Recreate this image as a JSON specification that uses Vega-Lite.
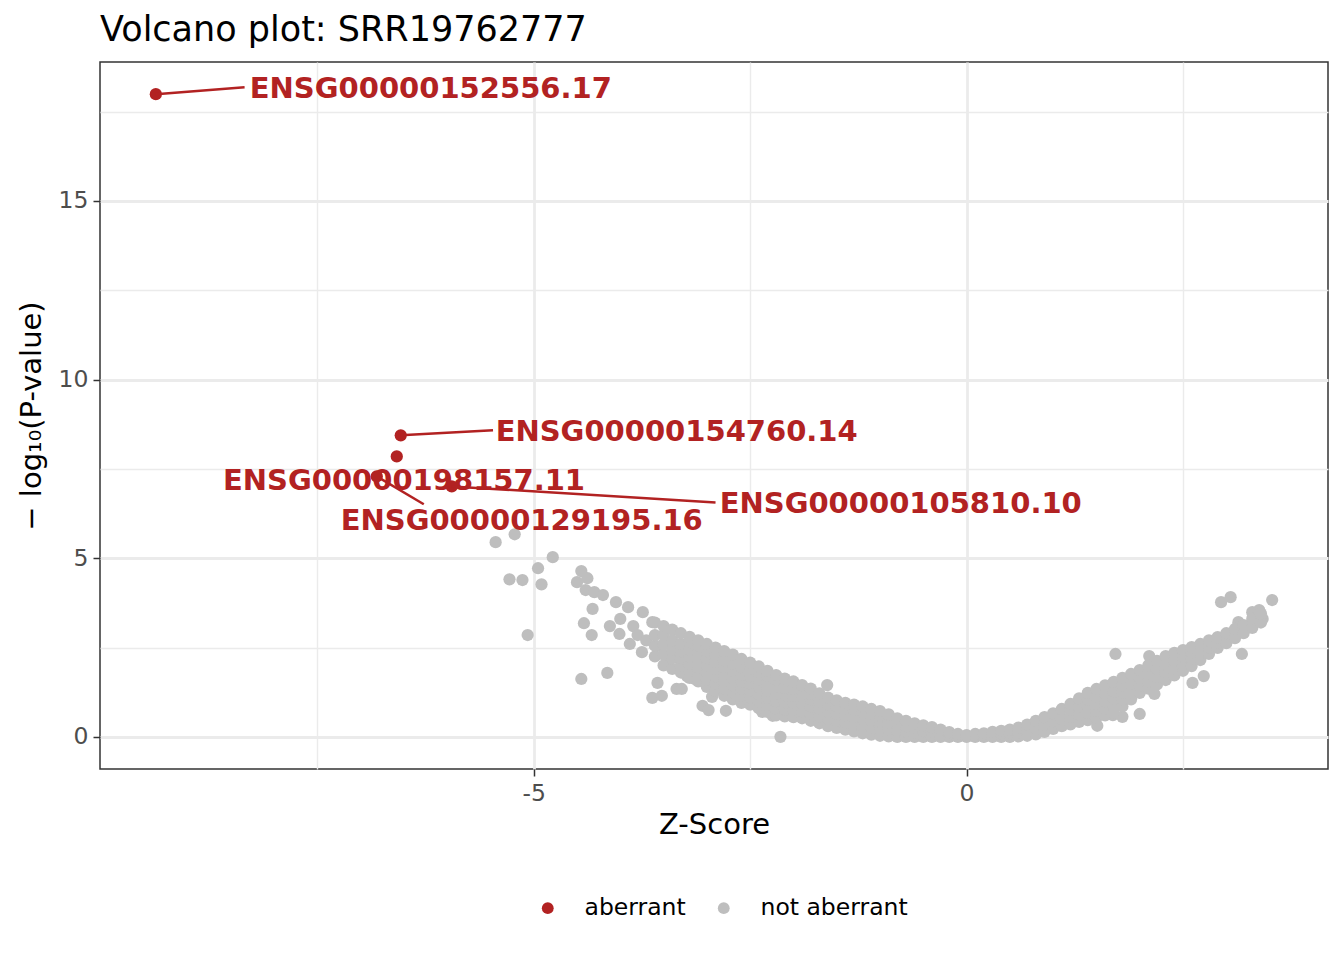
{
"$schema":"https://vega.github.io/schema/vega-lite/v6.json",
"autosize":{"type":"none"},
"padding":{"left":100,"top":62,"right":16,"bottom":191},
"width":1228,"height":707,
"title":{"text":"Volcano plot: SRR19762777","anchor":"start","frame":"group","fontSize":35,"font":"DejaVu Sans","fontWeight":"normal","color":"#000000","offset":14},
"config":{"font":"DejaVu Sans","view":{"stroke":"#333333","strokeWidth":1.5},
"axis":{"domain":false,"gridColor":"#EBEBEB","tickColor":"#333333","tickSize":7,"tickWidth":1.5,"labelColor":"#4D4D4D","labelFontSize":23.5,"labelFont":"DejaVu Sans","labelPadding":5,"titleFont":"DejaVu Sans","titleFontSize":29,"titleFontWeight":"normal","titleColor":"#000000"}},
"datasets":{
"pts":[
{"z":-5.44,"y":5.45,"status":"not aberrant"},{"z":-5.22,"y":5.67,"status":"not aberrant"},{"z":-4.78,"y":5.03,"status":"not aberrant"},{"z":-4.95,"y":4.72,"status":"not aberrant"},{"z":-5.28,"y":4.41,"status":"not aberrant"},{"z":-5.13,"y":4.39,"status":"not aberrant"},{"z":-4.91,"y":4.27,"status":"not aberrant"},{"z":-5.07,"y":2.85,"status":"not aberrant"},{"z":-4.45,"y":4.64,"status":"not aberrant"},{"z":-4.38,"y":4.44,"status":"not aberrant"},{"z":-4.5,"y":4.33,"status":"not aberrant"},{"z":-4.4,"y":4.11,"status":"not aberrant"},{"z":-4.3,"y":4.05,"status":"not aberrant"},{"z":-4.2,"y":3.97,"status":"not aberrant"},{"z":-4.32,"y":3.58,"status":"not aberrant"},{"z":-4.42,"y":3.18,"status":"not aberrant"},{"z":-4.33,"y":2.85,"status":"not aberrant"},{"z":-4.45,"y":1.62,"status":"not aberrant"},{"z":-4.15,"y":1.79,"status":"not aberrant"},{"z":-4.05,"y":3.77,"status":"not aberrant"},{"z":-3.91,"y":3.63,"status":"not aberrant"},{"z":-3.74,"y":3.49,"status":"not aberrant"},{"z":-4.12,"y":3.1,"status":"not aberrant"},{"z":-4.01,"y":2.88,"status":"not aberrant"},{"z":-3.89,"y":2.6,"status":"not aberrant"},{"z":-3.75,"y":2.37,"status":"not aberrant"},{"z":-3.58,"y":2.54,"status":"not aberrant"},{"z":-3.63,"y":3.21,"status":"not aberrant"},{"z":-3.63,"y":1.09,"status":"not aberrant"},{"z":-3.52,"y":1.15,"status":"not aberrant"},{"z":-3.35,"y":1.34,"status":"not aberrant"},{"z":-3.29,"y":1.34,"status":"not aberrant"},{"z":-3.05,"y":0.87,"status":"not aberrant"},{"z":-2.98,"y":0.75,"status":"not aberrant"},{"z":-2.94,"y":1.12,"status":"not aberrant"},{"z":-2.78,"y":0.73,"status":"not aberrant"},{"z":-3.45,"y":2.12,"status":"not aberrant"},{"z":-3.57,"y":1.51,"status":"not aberrant"},{"z":-3.23,"y":1.7,"status":"not aberrant"},{"z":-3.14,"y":1.62,"status":"not aberrant"},{"z":-2.97,"y":1.56,"status":"not aberrant"},{"z":-2.15,"y":0.0,"status":"not aberrant"},{"z":-1.61,"y":1.45,"status":"not aberrant"},{"z":-2.36,"y":0.7,"status":"not aberrant"},{"z":-2.24,"y":0.59,"status":"not aberrant"},{"z":-4.0,"y":3.3,"status":"not aberrant"},{"z":-3.85,"y":3.1,"status":"not aberrant"},{"z":-3.8,"y":2.85,"status":"not aberrant"},{"z":-3.7,"y":2.7,"status":"not aberrant"},
{"z":1.72,"y":2.32,"status":"not aberrant"},{"z":2.11,"y":2.26,"status":"not aberrant"},{"z":2.94,"y":3.77,"status":"not aberrant"},{"z":3.05,"y":3.91,"status":"not aberrant"},{"z":3.53,"y":3.83,"status":"not aberrant"},{"z":3.3,"y":3.49,"status":"not aberrant"},{"z":3.42,"y":3.3,"status":"not aberrant"},{"z":3.24,"y":3.07,"status":"not aberrant"},{"z":3.18,"y":2.32,"status":"not aberrant"},{"z":3.14,"y":3.21,"status":"not aberrant"},{"z":2.61,"y":1.51,"status":"not aberrant"},{"z":2.74,"y":1.7,"status":"not aberrant"},{"z":2.0,"y":0.64,"status":"not aberrant"},{"z":1.8,"y":0.56,"status":"not aberrant"},{"z":1.69,"y":0.61,"status":"not aberrant"},{"z":2.17,"y":1.2,"status":"not aberrant"},{"z":1.51,"y":0.31,"status":"not aberrant"},{"z":3.37,"y":3.4,"status":"not aberrant"},{"z":3.38,"y":3.55,"status":"not aberrant"},
{"z":-3.6,"y":2.25,"status":"not aberrant"},{"z":-3.6,"y":2.55,"status":"not aberrant"},{"z":-3.6,"y":2.85,"status":"not aberrant"},{"z":-3.6,"y":3.2,"status":"not aberrant"},
{"z":-3.5,"y":2.0,"status":"not aberrant"},{"z":-3.5,"y":2.3,"status":"not aberrant"},{"z":-3.5,"y":2.6,"status":"not aberrant"},{"z":-3.5,"y":2.85,"status":"not aberrant"},{"z":-3.5,"y":3.1,"status":"not aberrant"},
{"z":-3.4,"y":1.9,"status":"not aberrant"},{"z":-3.4,"y":2.2,"status":"not aberrant"},{"z":-3.4,"y":2.45,"status":"not aberrant"},{"z":-3.4,"y":2.7,"status":"not aberrant"},{"z":-3.4,"y":3.0,"status":"not aberrant"},
{"z":-3.3,"y":1.8,"status":"not aberrant"},{"z":-3.3,"y":2.0,"status":"not aberrant"},{"z":-3.3,"y":2.2,"status":"not aberrant"},{"z":-3.3,"y":2.4,"status":"not aberrant"},{"z":-3.3,"y":2.6,"status":"not aberrant"},{"z":-3.3,"y":2.9,"status":"not aberrant"},
{"z":-3.2,"y":1.65,"status":"not aberrant"},{"z":-3.2,"y":1.85,"status":"not aberrant"},{"z":-3.2,"y":2.05,"status":"not aberrant"},{"z":-3.2,"y":2.25,"status":"not aberrant"},{"z":-3.2,"y":2.45,"status":"not aberrant"},{"z":-3.2,"y":2.65,"status":"not aberrant"},{"z":-3.2,"y":2.8,"status":"not aberrant"},
{"z":-3.1,"y":1.55,"status":"not aberrant"},{"z":-3.1,"y":1.75,"status":"not aberrant"},{"z":-3.1,"y":1.95,"status":"not aberrant"},{"z":-3.1,"y":2.15,"status":"not aberrant"},{"z":-3.1,"y":2.35,"status":"not aberrant"},{"z":-3.1,"y":2.55,"status":"not aberrant"},{"z":-3.1,"y":2.7,"status":"not aberrant"},
{"z":-3.0,"y":1.4,"status":"not aberrant"},{"z":-3.0,"y":1.6,"status":"not aberrant"},{"z":-3.0,"y":1.8,"status":"not aberrant"},{"z":-3.0,"y":2.0,"status":"not aberrant"},{"z":-3.0,"y":2.2,"status":"not aberrant"},{"z":-3.0,"y":2.4,"status":"not aberrant"},{"z":-3.0,"y":2.6,"status":"not aberrant"},
{"z":-2.9,"y":1.3,"status":"not aberrant"},{"z":-2.9,"y":1.5,"status":"not aberrant"},{"z":-2.9,"y":1.7,"status":"not aberrant"},{"z":-2.9,"y":1.9,"status":"not aberrant"},{"z":-2.9,"y":2.1,"status":"not aberrant"},{"z":-2.9,"y":2.3,"status":"not aberrant"},{"z":-2.9,"y":2.5,"status":"not aberrant"},
{"z":-2.8,"y":1.15,"status":"not aberrant"},{"z":-2.8,"y":1.35,"status":"not aberrant"},{"z":-2.8,"y":1.55,"status":"not aberrant"},{"z":-2.8,"y":1.75,"status":"not aberrant"},{"z":-2.8,"y":1.95,"status":"not aberrant"},{"z":-2.8,"y":2.15,"status":"not aberrant"},{"z":-2.8,"y":2.4,"status":"not aberrant"},
{"z":-2.7,"y":1.05,"status":"not aberrant"},{"z":-2.7,"y":1.25,"status":"not aberrant"},{"z":-2.7,"y":1.45,"status":"not aberrant"},{"z":-2.7,"y":1.65,"status":"not aberrant"},{"z":-2.7,"y":1.85,"status":"not aberrant"},{"z":-2.7,"y":2.05,"status":"not aberrant"},{"z":-2.7,"y":2.3,"status":"not aberrant"},
{"z":-2.6,"y":0.95,"status":"not aberrant"},{"z":-2.6,"y":1.15,"status":"not aberrant"},{"z":-2.6,"y":1.35,"status":"not aberrant"},{"z":-2.6,"y":1.55,"status":"not aberrant"},{"z":-2.6,"y":1.75,"status":"not aberrant"},{"z":-2.6,"y":1.95,"status":"not aberrant"},{"z":-2.6,"y":2.18,"status":"not aberrant"},
{"z":-2.5,"y":0.9,"status":"not aberrant"},{"z":-2.5,"y":1.1,"status":"not aberrant"},{"z":-2.5,"y":1.3,"status":"not aberrant"},{"z":-2.5,"y":1.5,"status":"not aberrant"},{"z":-2.5,"y":1.7,"status":"not aberrant"},{"z":-2.5,"y":1.9,"status":"not aberrant"},{"z":-2.5,"y":2.08,"status":"not aberrant"},
{"z":-2.4,"y":0.8,"status":"not aberrant"},{"z":-2.4,"y":1.0,"status":"not aberrant"},{"z":-2.4,"y":1.2,"status":"not aberrant"},{"z":-2.4,"y":1.4,"status":"not aberrant"},{"z":-2.4,"y":1.6,"status":"not aberrant"},{"z":-2.4,"y":1.8,"status":"not aberrant"},{"z":-2.4,"y":1.97,"status":"not aberrant"},
{"z":-2.3,"y":0.7,"status":"not aberrant"},{"z":-2.3,"y":0.9,"status":"not aberrant"},{"z":-2.3,"y":1.1,"status":"not aberrant"},{"z":-2.3,"y":1.3,"status":"not aberrant"},{"z":-2.3,"y":1.5,"status":"not aberrant"},{"z":-2.3,"y":1.7,"status":"not aberrant"},{"z":-2.3,"y":1.85,"status":"not aberrant"},
{"z":-2.2,"y":0.6,"status":"not aberrant"},{"z":-2.2,"y":0.8,"status":"not aberrant"},{"z":-2.2,"y":1.0,"status":"not aberrant"},{"z":-2.2,"y":1.2,"status":"not aberrant"},{"z":-2.2,"y":1.4,"status":"not aberrant"},{"z":-2.2,"y":1.6,"status":"not aberrant"},{"z":-2.2,"y":1.73,"status":"not aberrant"},
{"z":-2.1,"y":0.57,"status":"not aberrant"},{"z":-2.1,"y":0.77,"status":"not aberrant"},{"z":-2.1,"y":0.97,"status":"not aberrant"},{"z":-2.1,"y":1.17,"status":"not aberrant"},{"z":-2.1,"y":1.37,"status":"not aberrant"},{"z":-2.1,"y":1.63,"status":"not aberrant"},
{"z":-2.0,"y":0.55,"status":"not aberrant"},{"z":-2.0,"y":0.75,"status":"not aberrant"},{"z":-2.0,"y":0.95,"status":"not aberrant"},{"z":-2.0,"y":1.15,"status":"not aberrant"},{"z":-2.0,"y":1.35,"status":"not aberrant"},{"z":-2.0,"y":1.55,"status":"not aberrant"},
{"z":-1.9,"y":0.52,"status":"not aberrant"},{"z":-1.9,"y":0.72,"status":"not aberrant"},{"z":-1.9,"y":0.92,"status":"not aberrant"},{"z":-1.9,"y":1.12,"status":"not aberrant"},{"z":-1.9,"y":1.3,"status":"not aberrant"},{"z":-1.9,"y":1.45,"status":"not aberrant"},
{"z":-1.8,"y":0.45,"status":"not aberrant"},{"z":-1.8,"y":0.65,"status":"not aberrant"},{"z":-1.8,"y":0.85,"status":"not aberrant"},{"z":-1.8,"y":1.05,"status":"not aberrant"},{"z":-1.8,"y":1.2,"status":"not aberrant"},{"z":-1.8,"y":1.35,"status":"not aberrant"},
{"z":-1.7,"y":0.38,"status":"not aberrant"},{"z":-1.7,"y":0.58,"status":"not aberrant"},{"z":-1.7,"y":0.78,"status":"not aberrant"},{"z":-1.7,"y":0.98,"status":"not aberrant"},{"z":-1.7,"y":1.22,"status":"not aberrant"},
{"z":-1.6,"y":0.3,"status":"not aberrant"},{"z":-1.6,"y":0.5,"status":"not aberrant"},{"z":-1.6,"y":0.7,"status":"not aberrant"},{"z":-1.6,"y":0.9,"status":"not aberrant"},{"z":-1.6,"y":1.1,"status":"not aberrant"},
{"z":-1.5,"y":0.25,"status":"not aberrant"},{"z":-1.5,"y":0.45,"status":"not aberrant"},{"z":-1.5,"y":0.65,"status":"not aberrant"},{"z":-1.5,"y":0.85,"status":"not aberrant"},{"z":-1.5,"y":1.02,"status":"not aberrant"},
{"z":-1.4,"y":0.2,"status":"not aberrant"},{"z":-1.4,"y":0.4,"status":"not aberrant"},{"z":-1.4,"y":0.6,"status":"not aberrant"},{"z":-1.4,"y":0.8,"status":"not aberrant"},{"z":-1.4,"y":0.95,"status":"not aberrant"},
{"z":-1.3,"y":0.15,"status":"not aberrant"},{"z":-1.3,"y":0.35,"status":"not aberrant"},{"z":-1.3,"y":0.55,"status":"not aberrant"},{"z":-1.3,"y":0.75,"status":"not aberrant"},{"z":-1.3,"y":0.9,"status":"not aberrant"},
{"z":-1.2,"y":0.1,"status":"not aberrant"},{"z":-1.2,"y":0.3,"status":"not aberrant"},{"z":-1.2,"y":0.5,"status":"not aberrant"},{"z":-1.2,"y":0.7,"status":"not aberrant"},{"z":-1.2,"y":0.85,"status":"not aberrant"},
{"z":-1.1,"y":0.06,"status":"not aberrant"},{"z":-1.1,"y":0.26,"status":"not aberrant"},{"z":-1.1,"y":0.46,"status":"not aberrant"},{"z":-1.1,"y":0.66,"status":"not aberrant"},{"z":-1.1,"y":0.78,"status":"not aberrant"},
{"z":-1.0,"y":0.03,"status":"not aberrant"},{"z":-1.0,"y":0.23,"status":"not aberrant"},{"z":-1.0,"y":0.43,"status":"not aberrant"},{"z":-1.0,"y":0.6,"status":"not aberrant"},{"z":-1.0,"y":0.72,"status":"not aberrant"},
{"z":-0.9,"y":0.01,"status":"not aberrant"},{"z":-0.9,"y":0.2,"status":"not aberrant"},{"z":-0.9,"y":0.4,"status":"not aberrant"},{"z":-0.9,"y":0.63,"status":"not aberrant"},
{"z":-0.8,"y":0.0,"status":"not aberrant"},{"z":-0.8,"y":0.18,"status":"not aberrant"},{"z":-0.8,"y":0.36,"status":"not aberrant"},{"z":-0.8,"y":0.52,"status":"not aberrant"},
{"z":-0.7,"y":0.0,"status":"not aberrant"},{"z":-0.7,"y":0.15,"status":"not aberrant"},{"z":-0.7,"y":0.3,"status":"not aberrant"},{"z":-0.7,"y":0.45,"status":"not aberrant"},
{"z":-0.6,"y":0.0,"status":"not aberrant"},{"z":-0.6,"y":0.13,"status":"not aberrant"},{"z":-0.6,"y":0.26,"status":"not aberrant"},{"z":-0.6,"y":0.38,"status":"not aberrant"},
{"z":-0.5,"y":0.0,"status":"not aberrant"},{"z":-0.5,"y":0.16,"status":"not aberrant"},{"z":-0.5,"y":0.32,"status":"not aberrant"},
{"z":-0.4,"y":0.0,"status":"not aberrant"},{"z":-0.4,"y":0.14,"status":"not aberrant"},{"z":-0.4,"y":0.27,"status":"not aberrant"},
{"z":-0.3,"y":0.0,"status":"not aberrant"},{"z":-0.3,"y":0.1,"status":"not aberrant"},{"z":-0.3,"y":0.2,"status":"not aberrant"},
{"z":-0.2,"y":0.0,"status":"not aberrant"},{"z":-0.2,"y":0.07,"status":"not aberrant"},{"z":-0.2,"y":0.13,"status":"not aberrant"},
{"z":-0.1,"y":0.0,"status":"not aberrant"},{"z":-0.1,"y":0.08,"status":"not aberrant"},
{"z":0.0,"y":0.0,"status":"not aberrant"},{"z":0.0,"y":0.05,"status":"not aberrant"},
{"z":0.1,"y":0.0,"status":"not aberrant"},{"z":0.1,"y":0.08,"status":"not aberrant"},
{"z":0.2,"y":0.0,"status":"not aberrant"},{"z":0.2,"y":0.1,"status":"not aberrant"},
{"z":0.3,"y":0.0,"status":"not aberrant"},{"z":0.3,"y":0.14,"status":"not aberrant"},
{"z":0.4,"y":0.0,"status":"not aberrant"},{"z":0.4,"y":0.09,"status":"not aberrant"},{"z":0.4,"y":0.17,"status":"not aberrant"},
{"z":0.5,"y":0.0,"status":"not aberrant"},{"z":0.5,"y":0.1,"status":"not aberrant"},{"z":0.5,"y":0.2,"status":"not aberrant"},
{"z":0.6,"y":0.01,"status":"not aberrant"},{"z":0.6,"y":0.13,"status":"not aberrant"},{"z":0.6,"y":0.26,"status":"not aberrant"},
{"z":0.7,"y":0.03,"status":"not aberrant"},{"z":0.7,"y":0.18,"status":"not aberrant"},{"z":0.7,"y":0.34,"status":"not aberrant"},
{"z":0.8,"y":0.07,"status":"not aberrant"},{"z":0.8,"y":0.25,"status":"not aberrant"},{"z":0.8,"y":0.45,"status":"not aberrant"},
{"z":0.9,"y":0.14,"status":"not aberrant"},{"z":0.9,"y":0.34,"status":"not aberrant"},{"z":0.9,"y":0.55,"status":"not aberrant"},
{"z":1.0,"y":0.22,"status":"not aberrant"},{"z":1.0,"y":0.44,"status":"not aberrant"},{"z":1.0,"y":0.66,"status":"not aberrant"},
{"z":1.1,"y":0.3,"status":"not aberrant"},{"z":1.1,"y":0.5,"status":"not aberrant"},{"z":1.1,"y":0.78,"status":"not aberrant"},
{"z":1.2,"y":0.35,"status":"not aberrant"},{"z":1.2,"y":0.55,"status":"not aberrant"},{"z":1.2,"y":0.75,"status":"not aberrant"},{"z":1.2,"y":0.92,"status":"not aberrant"},
{"z":1.3,"y":0.42,"status":"not aberrant"},{"z":1.3,"y":0.62,"status":"not aberrant"},{"z":1.3,"y":0.85,"status":"not aberrant"},{"z":1.3,"y":1.08,"status":"not aberrant"},
{"z":1.4,"y":0.47,"status":"not aberrant"},{"z":1.4,"y":0.67,"status":"not aberrant"},{"z":1.4,"y":0.87,"status":"not aberrant"},{"z":1.4,"y":1.05,"status":"not aberrant"},{"z":1.4,"y":1.23,"status":"not aberrant"},
{"z":1.5,"y":0.53,"status":"not aberrant"},{"z":1.5,"y":0.73,"status":"not aberrant"},{"z":1.5,"y":0.93,"status":"not aberrant"},{"z":1.5,"y":1.13,"status":"not aberrant"},{"z":1.5,"y":1.34,"status":"not aberrant"},
{"z":1.6,"y":0.6,"status":"not aberrant"},{"z":1.6,"y":0.8,"status":"not aberrant"},{"z":1.6,"y":1.0,"status":"not aberrant"},{"z":1.6,"y":1.2,"status":"not aberrant"},{"z":1.6,"y":1.44,"status":"not aberrant"},
{"z":1.7,"y":0.67,"status":"not aberrant"},{"z":1.7,"y":0.87,"status":"not aberrant"},{"z":1.7,"y":1.07,"status":"not aberrant"},{"z":1.7,"y":1.27,"status":"not aberrant"},{"z":1.7,"y":1.54,"status":"not aberrant"},
{"z":1.8,"y":0.85,"status":"not aberrant"},{"z":1.8,"y":1.05,"status":"not aberrant"},{"z":1.8,"y":1.25,"status":"not aberrant"},{"z":1.8,"y":1.45,"status":"not aberrant"},{"z":1.8,"y":1.65,"status":"not aberrant"},
{"z":1.9,"y":1.05,"status":"not aberrant"},{"z":1.9,"y":1.25,"status":"not aberrant"},{"z":1.9,"y":1.5,"status":"not aberrant"},{"z":1.9,"y":1.76,"status":"not aberrant"},
{"z":2.0,"y":1.23,"status":"not aberrant"},{"z":2.0,"y":1.43,"status":"not aberrant"},{"z":2.0,"y":1.65,"status":"not aberrant"},{"z":2.0,"y":1.87,"status":"not aberrant"},
{"z":2.1,"y":1.35,"status":"not aberrant"},{"z":2.1,"y":1.55,"status":"not aberrant"},{"z":2.1,"y":1.78,"status":"not aberrant"},{"z":2.1,"y":2.0,"status":"not aberrant"},
{"z":2.2,"y":1.47,"status":"not aberrant"},{"z":2.2,"y":1.67,"status":"not aberrant"},{"z":2.2,"y":1.9,"status":"not aberrant"},{"z":2.2,"y":2.13,"status":"not aberrant"},
{"z":2.3,"y":1.59,"status":"not aberrant"},{"z":2.3,"y":1.8,"status":"not aberrant"},{"z":2.3,"y":2.03,"status":"not aberrant"},{"z":2.3,"y":2.26,"status":"not aberrant"},
{"z":2.4,"y":1.72,"status":"not aberrant"},{"z":2.4,"y":1.92,"status":"not aberrant"},{"z":2.4,"y":2.14,"status":"not aberrant"},{"z":2.4,"y":2.35,"status":"not aberrant"},
{"z":2.5,"y":1.85,"status":"not aberrant"},{"z":2.5,"y":2.05,"status":"not aberrant"},{"z":2.5,"y":2.25,"status":"not aberrant"},{"z":2.5,"y":2.43,"status":"not aberrant"},
{"z":2.6,"y":1.98,"status":"not aberrant"},{"z":2.6,"y":2.18,"status":"not aberrant"},{"z":2.6,"y":2.35,"status":"not aberrant"},{"z":2.6,"y":2.51,"status":"not aberrant"},
{"z":2.7,"y":2.15,"status":"not aberrant"},{"z":2.7,"y":2.35,"status":"not aberrant"},{"z":2.7,"y":2.6,"status":"not aberrant"},
{"z":2.8,"y":2.32,"status":"not aberrant"},{"z":2.8,"y":2.5,"status":"not aberrant"},{"z":2.8,"y":2.7,"status":"not aberrant"},
{"z":2.9,"y":2.49,"status":"not aberrant"},{"z":2.9,"y":2.65,"status":"not aberrant"},{"z":2.9,"y":2.79,"status":"not aberrant"},
{"z":3.0,"y":2.62,"status":"not aberrant"},{"z":3.0,"y":2.9,"status":"not aberrant"},
{"z":3.1,"y":2.76,"status":"not aberrant"},{"z":3.1,"y":3.02,"status":"not aberrant"},
{"z":3.2,"y":2.9,"status":"not aberrant"},{"z":3.2,"y":3.13,"status":"not aberrant"},
{"z":3.3,"y":3.05,"status":"not aberrant"},{"z":3.3,"y":3.3,"status":"not aberrant"},
{"z":3.4,"y":3.2,"status":"not aberrant"},{"z":3.4,"y":3.45,"status":"not aberrant"},
{"z":-9.365,"y":17.99,"status":"aberrant"},{"z":-6.536,"y":8.44,"status":"aberrant"},{"z":-6.582,"y":7.85,"status":"aberrant"},{"z":-6.813,"y":7.29,"status":"aberrant"},{"z":-5.947,"y":7.01,"status":"aberrant"}
],
"lab":[
{"gene":"ENSG00000152556.17","z":-9.365,"y":17.99,"lx":-8.28,"ly":18.13,"sx":-8.34,"sy":18.18},
{"gene":"ENSG00000154760.14","z":-6.536,"y":8.44,"lx":-5.44,"ly":8.52,"sx":-5.47,"sy":8.58},
{"gene":"ENSG00000198157.11","z":-6.582,"y":7.85,"lx":-8.59,"ly":7.15,"sx":null,"sy":null},
{"gene":"ENSG00000129195.16","z":-6.813,"y":7.29,"lx":-7.23,"ly":6.03,"sx":-6.27,"sy":6.51},
{"gene":"ENSG00000105810.10","z":-5.947,"y":7.01,"lx":-2.852,"ly":6.53,"sx":-2.9,"sy":6.56}
]},
"layer":[
{"data":{"name":"pts"},"mark":{"type":"circle","size":150,"opacity":1},
"encoding":{
"x":{"field":"z","type":"quantitative","scale":{"domain":[-10.01,4.175],"nice":false,"zero":false},
"axis":{"values":[-7.5,-5,-2.5,0,2.5],"title":"Z-Score","titlePadding":6,"labelExpr":"datum.value % 5 === 0 ? '' + datum.value : ''",
"tickOpacity":{"condition":{"test":"datum.value % 5 !== 0","value":0},"value":1},
"gridWidth":{"condition":{"test":"datum.value % 5 !== 0","value":1.4},"value":2.8}}},
"y":{"field":"y","type":"quantitative","scale":{"domain":[-0.9,18.89],"nice":false,"zero":false},
"axis":{"values":[0,2.5,5,7.5,10,12.5,15,17.5],"title":"− log₁₀(P-value)","titlePadding":12,"labelExpr":"datum.value % 5 === 0 ? '' + datum.value : ''",
"tickOpacity":{"condition":{"test":"datum.value % 5 !== 0","value":0},"value":1},
"gridWidth":{"condition":{"test":"datum.value % 5 !== 0","value":1.4},"value":2.8}}},
"color":{"field":"status","type":"nominal","scale":{"domain":["aberrant","not aberrant"],"range":["#B22222","#BEBEBE"]},
"legend":{"title":null,"orient":"none","legendX":436,"legendY":834,"direction":"horizontal","symbolType":"circle","symbolSize":140,"symbolStrokeWidth":0,"labelFontSize":23.5,"labelFont":"DejaVu Sans","labelColor":"#000000","labelOffset":25,"columnPadding":26,"padding":0}}}},
{"data":{"name":"lab"},"transform":[{"filter":"datum.sx != null"}],"mark":{"type":"rule","color":"#B22222","strokeWidth":2.5},
"encoding":{"x":{"field":"z","type":"quantitative"},"y":{"field":"y","type":"quantitative"},"x2":{"field":"sx"},"y2":{"field":"sy"}}},
{"data":{"name":"lab"},"mark":{"type":"text","font":"DejaVu Sans","fontWeight":"bold","fontSize":29,"color":"#B22222","align":"left","baseline":"middle"},
"encoding":{"x":{"field":"lx","type":"quantitative"},"y":{"field":"ly","type":"quantitative"},"text":{"field":"gene"}}}
]
}
